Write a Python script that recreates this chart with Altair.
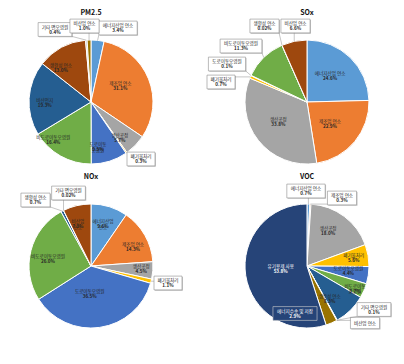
import math
import altair as alt
import pandas as pd

# ---------------- data ----------------
PM_CATS = ["에너지산업 연소", "제조업 연소", "생산공정", "폐기물처리", "도로이동오염원",
           "비도로이동오염원", "비산먼지", "생활성 연소", "기타 면오염원", "비산업 연소"]
PM_VALS = [3.4, 31.1, 5.7, 0.3, 9.5, 16.4, 19.3, 13.0, 0.4, 1.0]
PM_TEXT = ["3.4%", "31.1%", "5.7%", "0.3%", "9.5%", "16.4%", "19.3%", "13.0%", "0.4%", "1.0%"]

SOX_CATS = ["에너지산업 연소", "제조업 연소", "생산공정", "폐기물처리", "도로이동오염원",
            "비도로이동오염원", "생활성 연소", "비산업 연소"]
SOX_VALS = [24.6, 22.9, 33.8, 0.7, 0.1, 11.3, 0.02, 6.6]
SOX_TEXT = ["24.6%", "22.9%", "33.8%", "0.7%", "0.1%", "11.3%", "0.02%", "6.6%"]

NOX_CATS = ["에너지산업 연소", "제조업 연소", "생산공정", "폐기물처리", "도로이동오염원",
            "비도로이동오염원", "생활성 연소", "기타 면오염원", "비산업 연소"]
NOX_VALS = [9.6, 14.3, 4.5, 1.1, 36.5, 26.0, 0.7, 0.02, 7.3]
NOX_TEXT = ["9.6%", "14.3%", "4.5%", "1.1%", "36.5%", "26.0%", "0.7%", "0.02%", "7.3%"]

VOC_CATS = ["에너지산업 연소", "제조업 연소", "생산공정", "폐기물처리", "도로이동오염원",
            "비도로이동오염원", "생활성 연소", "기타 면오염원", "비산업 연소",
            "에너지수송 및 저장", "유기용제 사용"]
VOC_VALS = [0.7, 0.3, 18.0, 5.6, 4.4, 3.7, 8.3, 0.1, 0.05, 2.9, 53.8]
VOC_TEXT = ["0.7%", "0.3%", "18.0%", "5.6%", "4.4%", "3.7%", "8.3%", "0.1%", "", "2.9%", "53.8%"]

# ---------------- styles ----------------
PAL = ["#5B9BD5", "#ED7D31", "#A5A5A5", "#FFC000", "#4472C4", "#70AD47",
       "#255E91", "#9E480E", "#636363", "#997300", "#264478"]
PM_COLORS = PAL[:8] + ["#BFBFBF", "#997300"]
SOX_COLORS = PAL[:8]
NOX_COLORS = PAL[:7] + ["#636363", "#9E480E"]
VOC_COLORS = PAL[:11]

R = 62
LFS = 4.6
LH = 5.4
FONT = "Noto Sans CJK KR"
TXT = "#262626"
W, H = 172, 164
CX, CY = 83, 93

# label layout (line breaks, offsets of inside labels, callout box placement)
PM_BREAKS = {"도로이동오염원": "도로이동\n오염원"}
NOX_BREAKS = {"비산업 연소": "비산업\n연소", "에너지산업 연소": "에너지산업\n연소"}
VOC_BREAKS = {"비도로이동오염원": "비도로이동\n오염원"}

PM_NUDGE = {"제조업 연소": (-8, -1), "생산공정": (0, 8), "도로이동오염원": (-5, 6.7),
            "비도로이동오염원": (-18, 3), "비산먼지": (-6, 3), "생활성 연소": (-11, 1)}
SOX_NUDGE = {"에너지산업 연소": (-5, 3), "제조업 연소": (-8, -4), "생산공정": (3, -5)}
NOX_NUDGE = {"비산업 연소": (-4, -2.3), "에너지산업 연소": (0, -3.3), "제조업 연소": (7, 1),
             "생산공정": (10, 0), "도로이동오염원": (-7, -12), "비도로이동오염원": (-4, 2.5)}
VOC_NUDGE = {"생산공정": (-3, -3), "폐기물처리": (7, -1), "도로이동오염원": (1.5, -1),
             "비도로이동오염원": (11, 6.7), "생활성 연소": (-5.5, 4.5), "유기용제 사용": (13.5, -3.3)}

PM_CALL = {"기타 면오염원": (-36, -72.5, True, "box"), "비산업 연소": (-6.5, -76, True, "box"),
           "에너지산업 연소": (27, -74, True, "box"), "폐기물처리": (50, 57, True, "box")}
SOX_CALL = {"생활성 연소": (-42.5, -76, True, "box"), "비산업 연소": (-11.5, -76, True, "box"),
            "비도로이동오염원": (-66, -56, True, "box"), "도로이동오염원": (-80, -38, True, "box"),
            "폐기물처리": (-86, -20, True, "box")}
NOX_CALL = {"생활성 연소": (-55.5, -66, True, "box"), "기타 면오염원": (-22.5, -73, True, "box"),
            "폐기물처리": (77, 17, True, "box")}
VOC_CALL = {"에너지산업 연소": (-1, -75, True, "box"), "제조업 연소": (35, -68, True, "box"),
            "기타 면오염원": (67, 43.5, True, "box"), "비산업 연소": (58, 57, True, "box"),
            "에너지수송 및 저장": (-12, 47.5, False, "dark")}
VOC_WHITE = {"유기용제 사용"}


def tw(s):
    w = 0.0
    for ch in s:
        if "\uac00" <= ch <= "\ud7a3":
            w += 1.0
        elif ch == " ":
            w += 0.25
        elif ch == ".":
            w += 0.28
        elif ch == "%":
            w += 0.85
        else:
            w += 0.58
    return w * LFS


def panel(title, cats, vals, vtext, colors, breaks, nudges, callouts, white=()):
    total = float(sum(vals))
    arc_rows, txt_rows, box_rows, line_rows = [], [], [], []
    cum = 0.0
    for i, (c, v, t, col) in enumerate(zip(cats, vals, vtext, colors)):
        a = (cum + v / 2.0) / total * 2 * math.pi
        cum += v
        arc_rows.append({"idx": i, "cat": c, "value": v, "color": col})
        name = breaks.get(c, c)
        lines = name.split("\n")
        if c in callouts:
            bx, by, leader, style = callouts[c]
            wbox = max([tw(l) for l in lines] + [tw(t) * 1.05]) + 5
            hbox = (len(lines) + 1) * LH + 3 if t else LH + 6
            x0, x1, y0, y1 = bx - wbox / 2, bx + wbox / 2, by - hbox / 2, by + hbox / 2
            if style == "dark":
                fill, stroke, tc, sh = "#264478", "#d0d0d0", "white", 0
            else:
                fill, stroke, tc, sh = "white", "#8c8c8c", TXT, 1
            box_rows.append(dict(x0=x0, x1=x1, y0=y0, y1=y1, sx0=x0 + 0.9 * sh, sx1=x1 + 0.9 * sh,
                                 sy0=y0 + 0.9 * sh, sy1=y1 + 0.9 * sh, fill=fill, stroke=stroke,
                                 sop=0.75 * sh))
            if leader:
                ex, ey = R * math.sin(a), -R * math.cos(a)
                nx = min(max(ex, x0), x1)
                ny = min(max(ey, y0), y1)
                line_rows.append(dict(x=ex, y=ey, x2=nx, y2=ny))
            tx, ty = bx, by
        else:
            dx, dy = nudges.get(c, (0, 0))
            tx = 0.65 * R * math.sin(a) + dx
            ty = -0.65 * R * math.cos(a) + dy
            tc = "white" if c in white else TXT
        if not t:
            ty += LH / 2
        txt_rows.append(dict(x=tx, y=ty, name=name, val=t, tc=tc))

    xs = alt.Scale(domain=[-CX, W - CX], nice=False, zero=False)
    ys = alt.Scale(domain=[-CY, H - CY], nice=False, zero=False, reverse=True)

    def X(f):
        return alt.X(f, type="quantitative", scale=xs, axis=None)

    def Y(f):
        return alt.Y(f, type="quantitative", scale=ys, axis=None)

    df_arc = pd.DataFrame(arc_rows)
    df_txt = pd.DataFrame(txt_rows)
    df_box = pd.DataFrame(box_rows, columns=["x0", "x1", "y0", "y1", "sx0", "sx1", "sy0", "sy1",
                                             "fill", "stroke", "sop"])
    df_line = pd.DataFrame(line_rows, columns=["x", "y", "x2", "y2"])
    df_title = pd.DataFrame({"x": [0.0], "y": [-89.5], "t": [title]})

    arc = alt.Chart(df_arc).mark_arc(outerRadius=R, stroke="white", strokeWidth=1).encode(
        theta=alt.Theta("value:Q", stack=True),
        color=alt.Color("color:N", scale=None),
        order=alt.Order("idx:Q", sort="ascending"),
        x=alt.value(CX), y=alt.value(CY))
    shadow = alt.Chart(df_box).mark_rect(fill="#b0b0b0").encode(
        x=X("sx0"), x2=alt.X2("sx1"), y=Y("sy0"), y2=alt.Y2("sy1"),
        opacity=alt.Opacity("sop:Q", scale=None))
    box = alt.Chart(df_box).mark_rect(strokeWidth=0.6).encode(
        x=X("x0"), x2=alt.X2("x1"), y=Y("y0"), y2=alt.Y2("y1"),
        fill=alt.Fill("fill:N", scale=None), stroke=alt.Stroke("stroke:N", scale=None))
    rules = alt.Chart(df_line).mark_rule(color="#8c8c8c", strokeWidth=0.5).encode(
        x=X("x"), y=Y("y"), x2=alt.X2("x2"), y2=alt.Y2("y2"))
    names = alt.Chart(df_txt).mark_text(font=FONT, fontSize=LFS, baseline="bottom",
                                        lineBreak="\n", lineHeight=LH).encode(
        x=X("x"), y=Y("y"), text="name:N", color=alt.Color("tc:N", scale=None))
    values = alt.Chart(df_txt).mark_text(font=FONT, fontSize=LFS, fontWeight="bold",
                                         baseline="top").encode(
        x=X("x"), y=Y("y"), text="val:N", color=alt.Color("tc:N", scale=None))
    ttl = alt.Chart(df_title).mark_text(font=FONT, fontSize=7, fontWeight="bold",
                                        baseline="middle", color="#111111").encode(
        x=X("x"), y=Y("y"), text="t:N")
    return alt.layer(arc, shadow, box, rules, names, values, ttl).properties(width=W, height=H)


pm = panel("PM2.5", PM_CATS, PM_VALS, PM_TEXT, PM_COLORS, PM_BREAKS, PM_NUDGE, PM_CALL)
sox = panel("SOx", SOX_CATS, SOX_VALS, SOX_TEXT, SOX_COLORS, {}, SOX_NUDGE, SOX_CALL)
nox = panel("NOx", NOX_CATS, NOX_VALS, NOX_TEXT, NOX_COLORS, NOX_BREAKS, NOX_NUDGE, NOX_CALL)
voc = panel("VOC", VOC_CATS, VOC_VALS, VOC_TEXT, VOC_COLORS, VOC_BREAKS, VOC_NUDGE, VOC_CALL,
            VOC_WHITE)

chart = alt.concat(pm, sox, nox, voc, columns=2, spacing={"row": 0, "column": 44},
                   bounds="flush").resolve_scale(
    x="independent", y="independent").configure_view(stroke=None).properties(padding=0)

chart.save("out.html", embed_options={"renderer": "svg", "actions": False})
